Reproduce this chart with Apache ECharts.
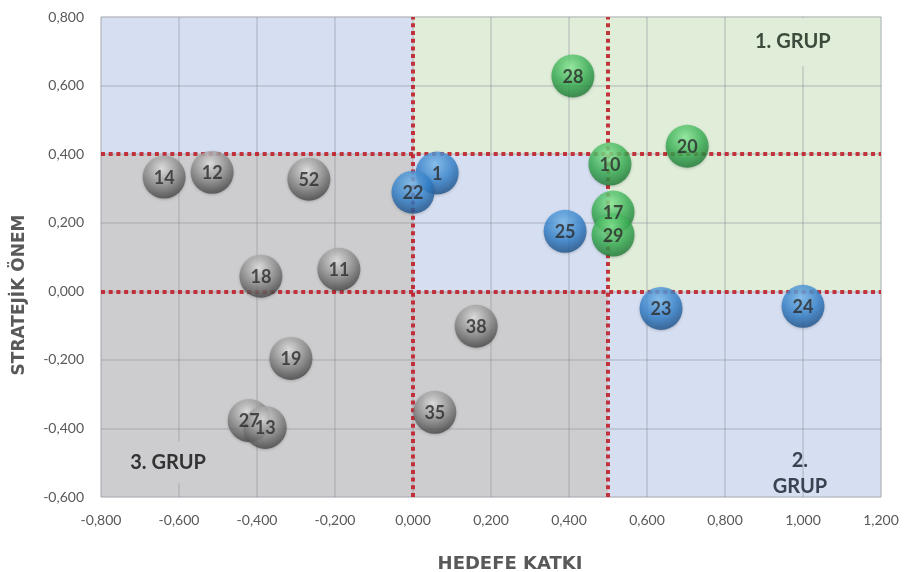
<!DOCTYPE html>
<html>
<head>
<meta charset="utf-8">
<script src="https://cdn.jsdelivr.net/npm/echarts@6/dist/echarts.min.js"></script>
<style>
  html, body { margin: 0; padding: 0; background: #fff; }
  #chart { width: 904px; height: 572px; }
</style>
</head>
<body>
<div id="chart"></div>
<script>
// Item ids, their contribution to goals (x) and strategic importance (y), and group
const ids    = ['14', '12', '52', '18', '11', '19', '27', '13', '35', '38',
                '1', '22', '25', '23', '24',
                '28', '20', '10', '17', '29'];
const katki  = [-0.638, -0.515, -0.267, -0.390, -0.190, -0.313, -0.420, -0.379, 0.056, 0.162,
                0.062, 0.000, 0.390, 0.636, 1.000,
                0.410, 0.703, 0.505, 0.513, 0.513];
const onem   = [0.333, 0.347, 0.327, 0.044, 0.064, -0.196, -0.377, -0.397, -0.353, -0.102,
                0.345, 0.289, 0.175, -0.050, -0.044,
                0.628, 0.423, 0.371, 0.231, 0.164];
const grup   = ['gri', 'gri', 'gri', 'gri', 'gri', 'gri', 'gri', 'gri', 'gri', 'gri',
                'mavi', 'mavi', 'mavi', 'mavi', 'mavi',
                'yesil', 'yesil', 'yesil', 'yesil', 'yesil'];

// Threshold values splitting the plane into groups
const xEsik = [0, 0.5];
const yEsik = [0.4, 0];

// Axis ranges
const xMin = -0.8, xMax = 1.2, xStep = 0.2;
const yMin = -0.6, yMax = 0.8, yStep = 0.2;

// Axis titles and group captions
const xBaslik = 'HEDEFE KATKI';
const yBaslik = 'STRATEJİK ÖNEM';
const grupAdlari = ['1. GRUP', '2.\nGRUP', '3. GRUP'];

const fmt = v => v.toFixed(3).replace('.', ',');

function sphere(light, mid, dark) {
  return new echarts.graphic.RadialGradient(0.45, 0.3, 0.75, [
    { offset: 0, color: light },
    { offset: 0.55, color: mid },
    { offset: 1, color: dark }
  ]);
}
const sphereColors = {
  gri:   sphere('#e8e8e8', '#8c8c8c', '#3a3a3a'),
  mavi:  sphere('#7cc0f4', '#3584cf', '#184a80'),
  yesil: sphere('#8ef29b', '#38b254', '#1a7231')
};

function pointsOf(g) {
  const out = [];
  for (let i = 0; i < ids.length; i++) {
    if (grup[i] === g) out.push({ value: [katki[i], onem[i]], name: ids[i] });
  }
  return out;
}

const GRAY = '#CDCDCF', GREEN = '#E0EDD9', BLUE = '#D6DFF2';

const bubbleSeries = ['gri', 'mavi', 'yesil'].map(g => ({
  type: 'scatter',
  name: g,
  z: 5,
  symbolSize: 43,
  data: pointsOf(g),
  itemStyle: { color: sphereColors[g], shadowBlur: 3, shadowColor: 'rgba(0,0,0,0.25)', shadowOffsetY: 1 },
  label: {
    show: true,
    position: 'inside',
    formatter: p => p.name,
    fontFamily: 'Lato',
    fontWeight: 'bold',
    fontSize: 18,
    color: '#2b2b2b',
    offset: [0, 1]
  },
  emphasis: { disabled: true }
}));

const chart = echarts.init(document.getElementById('chart'), null, { renderer: 'canvas' });
chart.setOption({
  animation: false,
  grid: {
    left: 101, top: 17, width: 780, height: 480,
    outerBoundsMode: 'none',
    containLabel: false,
    show: true,
    backgroundColor: BLUE,
    borderColor: '#d4d4d4',
    borderWidth: 1
  },
  xAxis: {
    type: 'value', min: xMin, max: xMax, interval: xStep, z: 3,
    axisLine: { show: false },
    axisTick: { show: false },
    axisLabel: { formatter: fmt, fontFamily: 'Lato', fontSize: 14, color: '#595959', margin: 16 },
    splitLine: { show: true, lineStyle: { color: 'rgba(130,135,145,0.35)', width: 1.5 } }
  },
  yAxis: {
    type: 'value', min: yMin, max: yMax, interval: yStep, z: 3,
    axisLine: { show: false },
    axisTick: { show: false },
    axisLabel: { formatter: fmt, fontFamily: 'Lato', fontSize: 14, color: '#595959', margin: 17 },
    splitLine: { show: true, lineStyle: { color: 'rgba(130,135,145,0.35)', width: 1.5 } }
  },
  graphic: [
    {
      type: 'text', x: 510, y: 564,
      style: { text: xBaslik, font: 'bold 18px "DejaVu Sans"', fill: '#595959', align: 'center', verticalAlign: 'middle' }
    },
    {
      type: 'text', x: 20, y: 295, rotation: Math.PI / 2,
      style: { text: yBaslik, font: 'bold 17px "DejaVu Sans"', fill: '#595959', align: 'center', verticalAlign: 'middle' }
    }
  ],
  series: [
    {
      // group regions
      type: 'scatter',
      z: 1,
      data: [],
      silent: true,
      markArea: {
        silent: true,
        label: { show: false },
        data: [
          [{ xAxis: xMin, yAxis: yMin, itemStyle: { color: GRAY } }, { xAxis: xEsik[0], yAxis: yEsik[0] }],
          [{ xAxis: xEsik[0], yAxis: yMin, itemStyle: { color: GRAY } }, { xAxis: xEsik[1], yAxis: yEsik[1] }],
          [{ xAxis: xEsik[0], yAxis: yEsik[0], itemStyle: { color: GREEN } }, { xAxis: xMax, yAxis: yMax }],
          [{ xAxis: xEsik[1], yAxis: yEsik[1], itemStyle: { color: GREEN } }, { xAxis: xMax, yAxis: yEsik[0] }]
        ]
      }
    },
    ...bubbleSeries,
    {
      // threshold lines and group captions
      type: 'scatter',
      z: 8,
      data: [],
      silent: true,
      markLine: {
        silent: true,
        symbol: 'none',
        label: { show: false },
        lineStyle: { color: '#c0202a', width: 4, type: [4, 3.7], opacity: 0.9 },
        data: [
          { xAxis: xEsik[0] }, { xAxis: xEsik[1] },
          { yAxis: yEsik[0] }, { yAxis: yEsik[1] }
        ]
      },
      // caption box for group 2, sitting on the plot floor
      markArea: {
        silent: true,
        label: { show: false },
        data: [
          [{ xAxis: 0.925, yAxis: yMin, itemStyle: { color: BLUE } }, { xAxis: 1.065, yAxis: -0.425 }]
        ]
      },
      markPoint: {
        silent: true,
        symbol: 'rect',
        symbolSize: 0,
        label: {
          show: true,
          position: 'inside',
          fontFamily: 'Lato',
          fontWeight: 'bold',
          fontSize: 20,
          lineHeight: 26
        },
        data: [
          { coord: [0.974, 0.727], value: 0,
            label: { formatter: grupAdlari[0], backgroundColor: GREEN, padding: [11, 14], color: '#3d4b3d' } },
          { coord: [0.992, -0.531], value: 1,
            label: { formatter: grupAdlari[1], color: '#3a4150' } },
          { coord: [-0.628, -0.499], value: 2,
            label: { formatter: grupAdlari[2], backgroundColor: GRAY, padding: [8, 12], color: '#333333' } }
        ]
      }
    }
  ]
});
</script>
</body>
</html>
